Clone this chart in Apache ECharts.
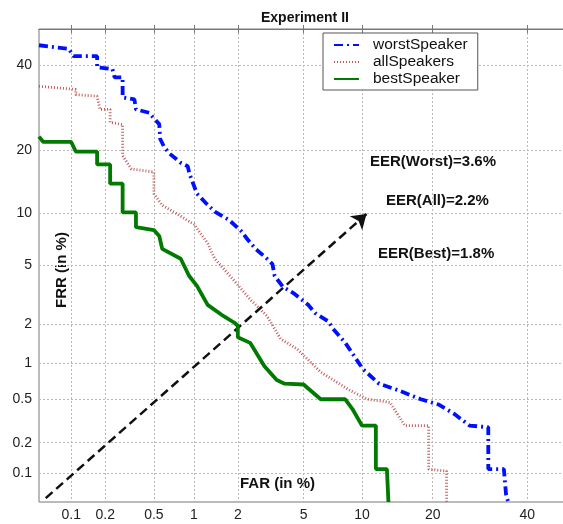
<!DOCTYPE html>
<html>
<head>
<meta charset="utf-8">
<script src="https://cdn.jsdelivr.net/npm/echarts@6/dist/echarts.min.js"></script>
<style>
  html, body { margin: 0; padding: 0; background: #fff; }
  #main { width: 563px; height: 524px; }
</style>
</head>
<body>
<div id="main"></div>
<script>
// tick labels (percent)
const xTicks = [0.1, 0.2, 0.5, 1, 2, 5, 10, 20, 40]
const yTicks = [0.1, 0.2, 0.5, 1, 2, 5, 10, 20, 40]

// DET curves, FAR / FRR in percent
const worstFAR = [0.05, 0.095, 0.105, 0.15, 0.17, 0.17, 0.23, 0.24, 0.28, 0.28, 0.35, 0.36, 0.46, 0.49, 0.55, 0.56, 0.6, 0.66, 0.8, 0.9, 0.93, 1.05, 1.2, 1.4, 1.75, 2.1, 2.3, 2.6, 3.0, 3.3, 3.4, 3.8, 4.4, 5.3, 5.8, 6.8, 7.2, 8.3, 10.1, 12, 14.5, 18, 21, 24, 27, 31, 31, 34.5, 35, 35.5]
const worstFRR = [45.5, 44.5, 42.5, 42.5, 42.5, 39.5, 39, 36.8, 36.8, 31.7, 31.2, 28.8, 28, 27, 25.4, 22.2, 20.6, 19.3, 17.6, 17, 15.6, 12.6, 11.4, 10.2, 9.2, 8.0, 7.2, 6.3, 5.6, 5.1, 4.3, 3.65, 3.3, 2.75, 2.4, 2.1, 1.85, 1.45, 0.9, 0.68, 0.6, 0.5, 0.45, 0.37, 0.29, 0.28, 0.11, 0.11, 0.06, 0.05]

const allFAR = [0.05, 0.11, 0.11, 0.17, 0.18, 0.22, 0.22, 0.28, 0.28, 0.33, 0.5, 0.5, 0.58, 0.72, 1.0, 1.25, 1.4, 1.85, 2.4, 3.05, 3.7, 4.6, 6.2, 8.7, 10.6, 13.4, 15.5, 19.3, 19.3, 22.5, 22.5]
const allFRR = [34.5, 33.7, 32.4, 32, 28.8, 28.8, 25.8, 25.3, 18.9, 16.5, 16, 12.6, 11, 10.1, 8.7, 6.8, 5.5, 4.1, 3.0, 2.3, 1.55, 1.3, 0.85, 0.6, 0.5, 0.47, 0.29, 0.29, 0.11, 0.105, 0.05]

const bestFAR = [0.05, 0.055, 0.1, 0.11, 0.17, 0.17, 0.22, 0.22, 0.28, 0.28, 0.36, 0.36, 0.5, 0.55, 0.58, 0.8, 0.92, 1.05, 1.25, 1.55, 1.9, 2.0, 2.0, 2.4, 2.95, 3.5, 3.9, 5.0, 6.2, 8.3, 9, 10, 11.6, 11.6, 13, 13.2]
const bestFRR = [22.7, 21.6, 21.6, 19.7, 19.7, 17.3, 17.3, 14.1, 14.1, 10.1, 10.1, 8.4, 8.1, 7.5, 6.3, 5.5, 4.3, 3.7, 2.75, 2.35, 2.05, 1.95, 1.6, 1.45, 0.95, 0.73, 0.68, 0.67, 0.5, 0.5, 0.41, 0.29, 0.29, 0.11, 0.11, 0.05]

// EER diagonal arrow (percent)
const arrowFrom = [0.058, 0.055]
const arrowTo = [10.5, 9.9]

// 正态分布逆函数（Acklam），用来做 DET 图的 probit 刻度
function probit(pct) {
  let p = pct / 100
  let a = [-39.69683028665376, 220.9460984245205, -275.9285104469687, 138.3577518672690, -30.66479806614716, 2.506628277459239]
  let b = [-54.47609879822406, 161.5858368580409, -155.6989798598866, 66.80131188771972, -13.28068155288572]
  let c = [-0.007784894002430293, -0.3223964580411365, -2.400758277161838, -2.549732539343734, 4.374664141464968, 2.938163982698783]
  let d = [0.007784695709041462, 0.3224671290700398, 2.445134137142996, 3.754408661907416]
  let q, r
  if (p < 0.02425) {
    q = Math.sqrt(-2 * Math.log(p))
    return (((((c[0] * q + c[1]) * q + c[2]) * q + c[3]) * q + c[4]) * q + c[5]) /
      ((((d[0] * q + d[1]) * q + d[2]) * q + d[3]) * q + 1)
  } else if (p <= 1 - 0.02425) {
    q = p - 0.5
    r = q * q
    return (((((a[0] * r + a[1]) * r + a[2]) * r + a[3]) * r + a[4]) * r + a[5]) * q /
      (((((b[0] * r + b[1]) * r + b[2]) * r + b[3]) * r + b[4]) * r + 1)
  }
  q = Math.sqrt(-2 * Math.log(1 - p))
  return -(((((c[0] * q + c[1]) * q + c[2]) * q + c[3]) * q + c[4]) * q + c[5]) /
    ((((d[0] * q + d[1]) * q + d[2]) * q + d[3]) * q + 1)
}

function toPoints(far, frr) {
  return far.map((v, i) => [probit(v), probit(frr[i])])
}

function tickLabel(ticks) {
  return function (v) {
    for (let t of ticks) {
      if (Math.abs(probit(t) - v) < 1e-6) return String(t)
    }
    return ''
  }
}

let chart = echarts.init(document.getElementById('main'))

let font = 'Liberation Sans, Arial, sans-serif'
let gridLine = { show: true, lineStyle: { color: '#b8b8b8', type: [2, 2], width: 1 } }

let axisMin = probit(0.05)

let option = {
  animation: false,
  backgroundColor: '#fff',
  title: {
    text: 'Experiment II',
    left: 256,
    top: 6,
    textStyle: { fontFamily: font, fontSize: 14, fontWeight: 'bold', color: '#111' }
  },
  legend: {
    orient: 'vertical',
    left: 323,
    top: 33,
    padding: [4, 10, 3, 10],
    itemGap: 1,
    itemWidth: 25,
    itemHeight: 15,
    backgroundColor: '#fff',
    borderColor: '#555',
    borderWidth: 1,
    borderRadius: 0,
    // 隐藏图例里的圆点，只留线型
    itemStyle: { opacity: 0 },
    textStyle: { fontFamily: font, fontSize: 15.5, color: '#111', padding: [0, 0, 0, 9] },
    data: ['worstSpeaker', 'allSpeakers', 'bestSpeaker']
  },
  grid: {
    left: 39,
    top: 29,
    right: -5,
    bottom: 22,
    show: true,
    borderColor: '#777',
    borderWidth: 1,
    outerBoundsMode: 'none'
  },
  xAxis: [{
    type: 'value',
    min: axisMin,
    max: 0,
    axisLine: { show: true, lineStyle: { color: '#777' } },
    axisTick: { show: true, inside: true, length: 4, customValues: xTicks.map(probit), lineStyle: { color: '#777' } },
    axisLabel: { customValues: xTicks.map(probit), formatter: tickLabel(xTicks), fontFamily: font, fontSize: 14, color: '#222', margin: 6 },
    splitLine: gridLine
  }, {
    type: 'value',
    position: 'top',
    min: axisMin,
    max: 0,
    axisLine: { show: true, lineStyle: { color: '#777' } },
    axisTick: { show: true, inside: true, length: 4, customValues: xTicks.map(probit), lineStyle: { color: '#777' } },
    axisLabel: { show: false },
    splitLine: { show: false }
  }],
  yAxis: {
    type: 'value',
    min: axisMin,
    max: 0,
    axisLine: { show: true, lineStyle: { color: '#777' } },
    axisTick: { show: true, inside: true, length: 4, customValues: yTicks.map(probit), lineStyle: { color: '#777' } },
    axisLabel: { customValues: yTicks.map(probit), formatter: tickLabel(yTicks), fontFamily: font, fontSize: 14, color: '#222', margin: 7 },
    splitLine: gridLine
  },
  graphic: [
    { type: 'text', left: 370, top: 154, style: { text: 'EER(Worst)=3.6%', font: 'bold 15px ' + font, fill: '#111' } },
    { type: 'text', left: 386, top: 193, style: { text: 'EER(All)=2.2%', font: 'bold 15px ' + font, fill: '#111' } },
    { type: 'text', left: 378, top: 246, style: { text: 'EER(Best)=1.8%', font: 'bold 15px ' + font, fill: '#111' } },
    { type: 'text', left: 240, top: 476, style: { text: 'FAR (in %)', font: 'bold 15px ' + font, fill: '#111' } },
    { type: 'text', x: 62, y: 270, rotation: Math.PI / 2, style: { text: 'FRR (in %)', font: 'bold 15px ' + font, fill: '#111', align: 'center', verticalAlign: 'middle' } }
  ],
  series: [
    {
      name: 'worstSpeaker',
      type: 'line',
      symbol: 'none',
      data: toPoints(worstFAR, worstFRR),
      itemStyle: { color: '#0010ff' },
      lineStyle: { color: '#0010ff', width: 3.8, type: [9, 4, 2, 4] },
      z: 4
    },
    {
      name: 'allSpeakers',
      type: 'line',
      symbol: 'none',
      data: toPoints(allFAR, allFRR),
      itemStyle: { color: '#c05a5a' },
      lineStyle: { color: '#c05a5a', width: 2.8, type: [1, 2] },
      z: 3
    },
    {
      name: 'bestSpeaker',
      type: 'line',
      symbol: 'none',
      data: toPoints(bestFAR, bestFRR),
      itemStyle: { color: '#007a00' },
      lineStyle: { color: '#007a00', width: 3.8 },
      z: 5,
      markLine: {
        silent: true,
        symbol: ['none', 'arrow'],
        symbolSize: 14,
        label: { show: false },
        lineStyle: { color: '#111', width: 2.5, type: [9, 5] },
        data: [[
          { coord: [probit(arrowFrom[0]), probit(arrowFrom[1])] },
          { coord: [probit(arrowTo[0]), probit(arrowTo[1])] }
        ]]
      }
    }
  ]
}

chart.setOption(option)
</script>
</body>
</html>
